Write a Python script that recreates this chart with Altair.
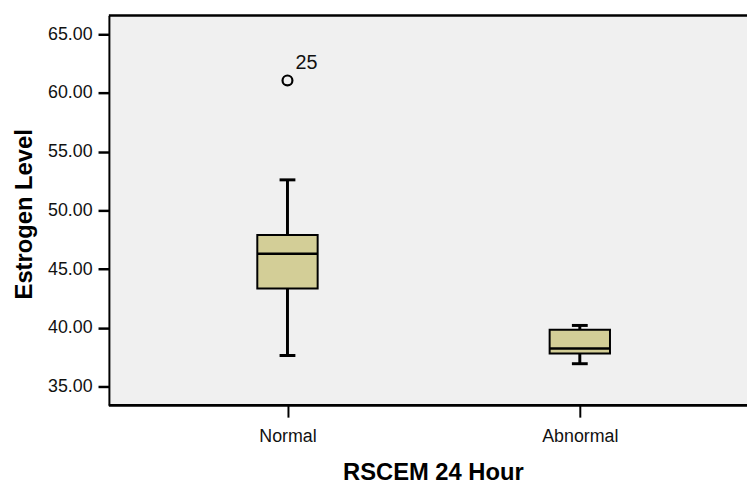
import altair as alt
import pandas as pd

groups = ["Normal", "Abnormal"]
whisker_low = [37.64, 36.94]
q1 = [43.34, 37.81]
median = [46.30, 38.23]
q3 = [47.90, 39.83]
whisker_high = [52.60, 40.20]

outlier_group = ["Normal"]
outlier_value = [61.07]
outlier_label = ["25"]

y_ticks = [35, 40, 45, 50, 55, 60, 65]
y_domain = [33.4, 66.6]

box = pd.DataFrame({"group": groups, "lo": whisker_low, "q1": q1,
                    "med": median, "q3": q3, "hi": whisker_high})
out = pd.DataFrame({"group": outlier_group, "v": outlier_value, "lab": outlier_label})

FONT = "Liberation Sans"
W, H = 645, 394

xs = alt.Scale(type="point", domain=groups, range=[180.5, 476], padding=0)
ys = alt.Scale(domain=y_domain, nice=False, zero=False)

x_axis = alt.Axis(title="RSCEM 24 Hour", labelAngle=0, labelFont=FONT, labelFontSize=18,
                  labelColor="#111", labelPadding=11, tickSize=12, tickWidth=2, tickColor="black",
                  domain=False, titleFont=FONT, titleFontSize=24,
                  titleFontWeight="bold", titleColor="black", titleX=327.5, titleY=74.7,
                  titleBaseline="alphabetic", titleAlign="center", grid=False)
y_axis = alt.Axis(title="Estrogen Level", values=y_ticks, format=".2f", labelFont=FONT,
                  labelFontSize=18, labelColor="#111", labelPadding=6, tickSize=11,
                  tickWidth=2.5, tickColor="black", domainColor="black", domainWidth=2,
                  titleFont=FONT, titleFontSize=24, titleFontWeight="bold", titleColor="black",
                  titleAngle=270, titleX=-78.3, titleY=200.5, titleBaseline="alphabetic",
                  titleAlign="center", grid=False)

base = alt.Chart(box)
xenc = alt.X("group:N", scale=xs, axis=x_axis, sort=groups)

whisk = base.mark_rule(color="black", strokeWidth=3).encode(
    x=xenc, y=alt.Y("lo:Q", scale=ys, axis=y_axis), y2="hi:Q")
rect = base.mark_bar(size=61, fill="#D3CE97", stroke="black", strokeWidth=2, opacity=1).encode(
    x=alt.X("group:N", scale=xs, sort=groups), y=alt.Y("q1:Q", scale=ys), y2="q3:Q")
med = base.mark_tick(size=61, thickness=2.5, color="black", opacity=1).encode(
    x=alt.X("group:N", scale=xs, sort=groups), y=alt.Y("med:Q", scale=ys))
cap_lo = base.mark_tick(size=16, thickness=3, color="black", opacity=1).encode(
    x=alt.X("group:N", scale=xs, sort=groups), y=alt.Y("lo:Q", scale=ys))
cap_hi = base.mark_tick(size=16, thickness=3, color="black", opacity=1).encode(
    x=alt.X("group:N", scale=xs, sort=groups), y=alt.Y("hi:Q", scale=ys))
pts = alt.Chart(out).mark_point(shape="circle", size=100, filled=False, stroke="black",
                                strokeWidth=2.2, opacity=1).encode(
    x=alt.X("group:N", scale=xs, sort=groups), y=alt.Y("v:Q", scale=ys))
lab = alt.Chart(out).mark_text(font=FONT, fontSize=20, align="left", baseline="alphabetic",
                               dx=8, dy=-12, color="#111").encode(
    x=alt.X("group:N", scale=xs, sort=groups), y=alt.Y("v:Q", scale=ys), text="lab:N")
top = base.mark_rule(color="black", strokeWidth=2).encode(
    x=alt.value(0), x2=alt.value(W), y=alt.value(0))
bottom = base.mark_rule(color="black", strokeWidth=2.5).encode(
    x=alt.value(0), x2=alt.value(W), y=alt.value(H))

chart = alt.layer(whisk, rect, med, cap_lo, cap_hi, pts, lab, top, bottom).properties(
    width=W, height=H,
    autosize=alt.AutoSizeParams(type="none"),
    padding={"left": 102, "top": 5, "right": 0, "bottom": 77},
    background="white",
).configure_view(fill="#F0F0F0", stroke=None)

chart.save("out.html", embed_options={"renderer": "svg", "actions": False})
